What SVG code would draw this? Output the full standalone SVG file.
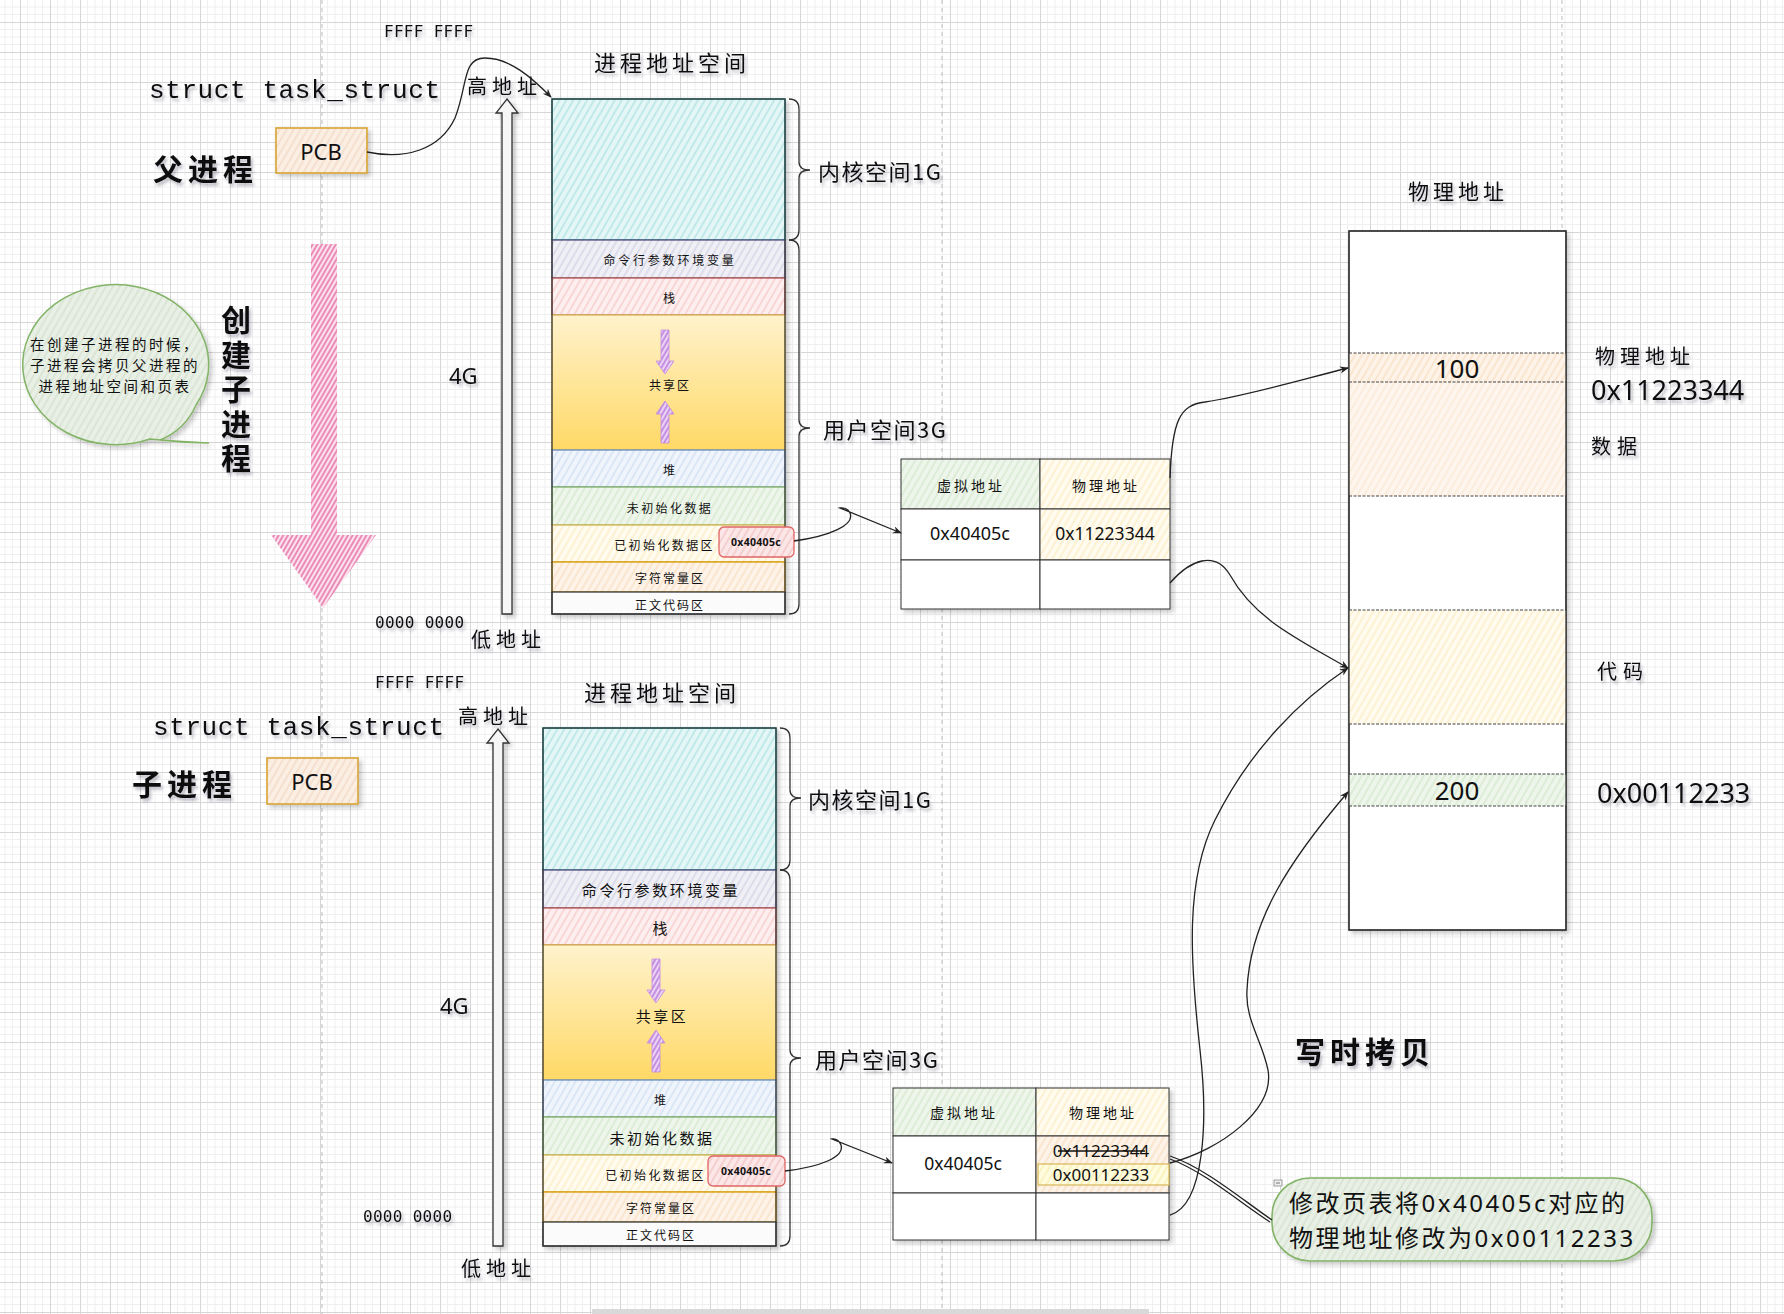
<svg xmlns="http://www.w3.org/2000/svg" width="1784" height="1314" viewBox="0 0 1784 1314">
<defs>
<style>
text{fill:#111;}
.cj{font-family:"Noto Sans CJK SC","Noto Sans CJK JP",sans-serif;}
.la{font-family:"Noto Sans","Noto Sans CJK SC",sans-serif;}
.mo{font-family:"DejaVu Sans Mono","Liberation Mono",monospace;}
.mo2{font-family:"Liberation Mono","DejaVu Sans Mono",monospace;}
.sh{filter:url(#ts);}
.c{text-anchor:middle;}
.m{dominant-baseline:central;}
.seg{stroke-width:1.3;}
.edge{fill:none;stroke:#222;stroke-width:1.3;}
.arr{marker-end:url(#ah);}
.brace{fill:none;stroke:#333;stroke-width:1.3;}
.pdiv{stroke:#444;stroke-width:1.2;stroke-dasharray:3 1.5;}
.page{stroke:#bdbdbd;stroke-width:1;stroke-dasharray:4 4;}
</style>
<pattern id="grid" patternUnits="userSpaceOnUse" x="20" y="22" width="30" height="30">
<rect width="30" height="30" fill="#fff"/>
<path d="M7.5,0V30M15,0V30M22.5,0V30M0,7.5H30M0,15H30M0,22.5H30" stroke="#f0f0f0" stroke-width="1"/>
<path d="M0.5,0V30M0,0.5H30" stroke="#d6d6d6" stroke-width="1"/>
</pattern>
<pattern id="hCyan" patternUnits="userSpaceOnUse" width="6" height="6" patternTransform="rotate(30)"><rect width="6" height="6" fill="#e4f6f6"/><line x1="1" y1="0" x2="1" y2="6" stroke="#aee3e3" stroke-width="1.3"/></pattern>
<pattern id="hLav" patternUnits="userSpaceOnUse" width="6" height="6" patternTransform="rotate(30)"><rect width="6" height="6" fill="#efeff5"/><line x1="1" y1="0" x2="1" y2="6" stroke="#d3d3e5" stroke-width="1.3"/></pattern>
<pattern id="hPink" patternUnits="userSpaceOnUse" width="6" height="6" patternTransform="rotate(30)"><rect width="6" height="6" fill="#fdefef"/><line x1="1" y1="0" x2="1" y2="6" stroke="#f6c9c9" stroke-width="1.3"/></pattern>
<pattern id="hBlue" patternUnits="userSpaceOnUse" width="6" height="6" patternTransform="rotate(30)"><rect width="6" height="6" fill="#f0f5fc"/><line x1="1" y1="0" x2="1" y2="6" stroke="#cfdef3" stroke-width="1.3"/></pattern>
<pattern id="hGreen" patternUnits="userSpaceOnUse" width="6" height="6" patternTransform="rotate(30)"><rect width="6" height="6" fill="#eef6eb"/><line x1="1" y1="0" x2="1" y2="6" stroke="#d3e7cb" stroke-width="1.3"/></pattern>
<pattern id="hYellow" patternUnits="userSpaceOnUse" width="6" height="6" patternTransform="rotate(30)"><rect width="6" height="6" fill="#fffbee"/><line x1="1" y1="0" x2="1" y2="6" stroke="#fcedc6" stroke-width="1.3"/></pattern>
<pattern id="hOrange" patternUnits="userSpaceOnUse" width="6" height="6" patternTransform="rotate(30)"><rect width="6" height="6" fill="#fdf3e8"/><line x1="1" y1="0" x2="1" y2="6" stroke="#f9dec2" stroke-width="1.3"/></pattern>
<pattern id="hPeach" patternUnits="userSpaceOnUse" width="6" height="6" patternTransform="rotate(30)"><rect width="6" height="6" fill="#fbeee3"/><line x1="1" y1="0" x2="1" y2="6" stroke="#f2d8c4" stroke-width="1.3"/></pattern>
<pattern id="hRed" patternUnits="userSpaceOnUse" width="6" height="6" patternTransform="rotate(30)"><rect width="6" height="6" fill="#fbe7e7"/><line x1="1" y1="0" x2="1" y2="6" stroke="#f2c3c3" stroke-width="1.3"/></pattern>
<pattern id="hCall" patternUnits="userSpaceOnUse" width="6" height="6" patternTransform="rotate(30)"><rect width="6" height="6" fill="#e8efe5"/><line x1="1" y1="0" x2="1" y2="6" stroke="#d4e0cf" stroke-width="1.3"/></pattern>
<pattern id="hLtYel" patternUnits="userSpaceOnUse" width="6" height="6" patternTransform="rotate(30)"><rect width="6" height="6" fill="#fffce0"/><line x1="1" y1="0" x2="1" y2="6" stroke="#f8efb0" stroke-width="1.3"/></pattern>
<pattern id="hPurple" patternUnits="userSpaceOnUse" width="4" height="4" patternTransform="rotate(30)"><rect width="4" height="4" fill="#e9d4f5"/><line x1="1" y1="0" x2="1" y2="4" stroke="#b56ad8" stroke-width="1.3"/></pattern>
<pattern id="hMag" patternUnits="userSpaceOnUse" width="4" height="4" patternTransform="rotate(30)"><rect width="4" height="4" fill="#fbe3ee"/><line x1="1" y1="0" x2="1" y2="4" stroke="#e4659f" stroke-width="1.4"/></pattern>
<linearGradient id="gShared" x1="0" y1="0" x2="0" y2="1"><stop offset="0" stop-color="#fff2cc"/><stop offset="1" stop-color="#ffd966"/></linearGradient>
<filter id="ts" x="-20%" y="-40%" width="150%" height="200%"><feDropShadow dx="2" dy="3" stdDeviation="1.6" flood-color="#334" flood-opacity="0.3"/></filter>
<filter id="ds" x="-10%" y="-10%" width="130%" height="130%"><feDropShadow dx="3" dy="3" stdDeviation="2" flood-color="#000" flood-opacity="0.2"/></filter>
<marker id="ah" viewBox="0 0 10 10" refX="9" refY="5" markerWidth="9" markerHeight="9" markerUnits="userSpaceOnUse" orient="auto"><path d="M0,1 L10,5 L0,9 L3,5 Z" fill="#222"/></marker>
</defs>

<rect width="1784" height="1314" fill="url(#grid)"/>
<g id="page-lines">
<line class="page" x1="322" y1="0" x2="322" y2="1314"/>
<line class="page" x1="942" y1="0" x2="942" y2="1314"/>
<line class="page" x1="1562" y1="0" x2="1562" y2="1314"/>
<rect x="592" y="1309" width="557" height="5" fill="#d9d9d9"/>
</g>

<!-- ===== Parent process ===== -->
<g id="parent-labels">
<text class="mo sh m" x="384" y="31" font-size="16" letter-spacing="0.3">FFFF  FFFF</text>
<text class="mo2 sh" x="149" y="98" font-size="26" letter-spacing="0.6">struct task_struct</text>
<text class="cj sh m" x="153" y="167" font-size="30" font-weight="bold" letter-spacing="5">父进程</text>
<text class="cj sh m" x="467" y="85" font-size="20" letter-spacing="5">高地址</text>
<text class="la sh m" x="449" y="375" font-size="22">4G</text>
<text class="mo sh m" x="375" y="622" font-size="16" letter-spacing="0.3">0000  0000</text>
<text class="cj sh m" x="471" y="638" font-size="20" letter-spacing="5">低地址</text>
<text class="cj sh c m" x="672" y="61" font-size="22" letter-spacing="4">进程地址空间</text>
</g>
<g id="parent-pcb">
<rect x="276" y="128" width="91" height="45" fill="url(#hPeach)" stroke="#d9a332" stroke-width="1.6" filter="url(#ds)"/>
<text class="la c m" x="321" y="151" font-size="22">PCB</text>
</g>
<g id="parent-addr-arrow">
<polygon points="507,99 518,113 512,113 512,614 502,614 502,113 496,113" fill="#f6f6f6" stroke="#333" stroke-width="1.3" filter="url(#ds)"/>
</g>
<g id="parent-vas" transform="translate(552,99)">
<g filter="url(#ds)">
<rect class="seg" x="0" y="0" width="233" height="141" fill="url(#hCyan)" stroke="#0e8088"/>
<rect class="seg" x="0" y="141" width="233" height="38" fill="url(#hLav)" stroke="#56517e"/>
<rect class="seg" x="0" y="179" width="233" height="37" fill="url(#hPink)" stroke="#b85450"/>
<rect class="seg" x="0" y="216" width="233" height="135" fill="url(#gShared)" stroke="#d6b656"/>
<rect class="seg" x="0" y="351" width="233" height="37" fill="url(#hBlue)" stroke="#6c8ebf"/>
<rect class="seg" x="0" y="388" width="233" height="38" fill="url(#hGreen)" stroke="#82b366"/>
<rect class="seg" x="0" y="426" width="233" height="37" fill="url(#hYellow)" stroke="#d6b656"/>
<rect class="seg" x="0" y="463" width="233" height="30" fill="url(#hOrange)" stroke="#d79b00"/>
<rect class="seg" x="0" y="493" width="233" height="22" fill="#fbfbfb" stroke="#36393d"/>
<rect x="0" y="0" width="233" height="515" fill="none" stroke="#333" stroke-width="1.2"/>
</g>
<path d="M109,231 H117 V262 H122 L113,275 L104,262 H109 Z" fill="url(#hPurple)" stroke="#c48ae0" stroke-width="0.8"/>
<path d="M113,302 L122,315 H117 V344 H109 V315 H104 Z" fill="url(#hPurple)" stroke="#c48ae0" stroke-width="0.8"/>
<text class="cj c m" x="118" y="160" font-size="12" letter-spacing="2.8">命令行参数环境变量</text>
<text class="cj c m" x="117" y="198" font-size="12">栈</text>
<text class="cj c m" x="118" y="285" font-size="12" letter-spacing="2">共享区</text>
<text class="cj c m" x="117" y="370" font-size="12">堆</text>
<text class="cj c m" x="118" y="408" font-size="12" letter-spacing="2.4">未初始化数据</text>
<text class="cj m" x="163" y="445" font-size="12" letter-spacing="2.4" text-anchor="end">已初始化数据区</text>
<rect x="167" y="428" width="75" height="30" rx="5" fill="url(#hRed)" stroke="#e06666" stroke-width="1.3"/>
<text class="la c m" x="204" y="443" font-size="10.5" font-weight="bold" letter-spacing="0.3">0x40405c</text>
<text class="cj c m" x="118" y="478" font-size="12" letter-spacing="2">字符常量区</text>
<text class="cj c m" x="118" y="505" font-size="12" letter-spacing="2">正文代码区</text>
<path class="brace" d="M237,0 Q247,0 247,10 L247,63 Q247,71 258,71 Q247,71 247,79 L247,131 Q247,141 237,141"/>
<path class="brace" d="M237,141 Q247,141 247,151 L247,321 Q247,329 258,329 Q247,329 247,337 L247,505 Q247,515 237,515"/>
<text class="cj sh m" x="266" y="71" font-size="22" letter-spacing="1.5">内核空间1G</text>
<text class="cj sh m" x="271" y="329" font-size="22" letter-spacing="1.5">用户空间3G</text>
</g>
<g id="parent-pagetable" transform="translate(901,459)">
<g filter="url(#ds)">
<rect x="0" y="0" width="139" height="50" fill="url(#hGreen)" stroke="#333"/>
<rect x="139" y="0" width="130" height="50" fill="url(#hYellow)" stroke="#333"/>
<rect x="0" y="50" width="139" height="51" fill="#fff" stroke="#333"/>
<rect x="139" y="50" width="130" height="51" fill="url(#hYellow)" stroke="#333"/>
<rect x="0" y="101" width="139" height="49" fill="#fff" stroke="#333"/>
<rect x="139" y="101" width="130" height="49" fill="#fff" stroke="#333"/>
</g>
<text class="cj c m" x="70" y="26" font-size="14" letter-spacing="3">虚拟地址</text>
<text class="cj c m" x="205" y="26" font-size="14" letter-spacing="3">物理地址</text>
<text class="la c m" x="69" y="74" font-size="18">0x40405c</text>
<text class="la c m" x="204" y="74" font-size="17.5">0x11223344</text>
</g>

<!-- ===== Child process ===== -->
<g id="child-labels">
<text class="mo sh m" x="375" y="682" font-size="16" letter-spacing="0.3">FFFF  FFFF</text>
<text class="mo2 sh" x="153" y="735" font-size="26" letter-spacing="0.6">struct task_struct</text>
<text class="cj sh m" x="132" y="782" font-size="30" font-weight="bold" letter-spacing="5">子进程</text>
<text class="cj sh m" x="458" y="715" font-size="20" letter-spacing="5">高地址</text>
<text class="la sh m" x="440" y="1005" font-size="22">4G</text>
<text class="mo sh m" x="363" y="1216" font-size="16" letter-spacing="0.3">0000  0000</text>
<text class="cj sh m" x="461" y="1267" font-size="20" letter-spacing="5">低地址</text>
<text class="cj sh c m" x="662" y="691" font-size="22" letter-spacing="4">进程地址空间</text>
</g>
<g id="child-pcb">
<rect x="267" y="758" width="91" height="46" fill="url(#hPeach)" stroke="#d9a332" stroke-width="1.6" filter="url(#ds)"/>
<text class="la c m" x="312" y="781" font-size="22">PCB</text>
</g>
<g id="child-addr-arrow">
<polygon points="498,729 509,743 503,743 503,1246 493,1246 493,743 487,743" fill="#f6f6f6" stroke="#333" stroke-width="1.3" filter="url(#ds)"/>
</g>
<g id="child-vas" transform="translate(543,728)">
<g filter="url(#ds)">
<rect class="seg" x="0" y="0" width="233" height="142" fill="url(#hCyan)" stroke="#0e8088"/>
<rect class="seg" x="0" y="142" width="233" height="38" fill="url(#hLav)" stroke="#56517e"/>
<rect class="seg" x="0" y="180" width="233" height="37" fill="url(#hPink)" stroke="#b85450"/>
<rect class="seg" x="0" y="217" width="233" height="135" fill="url(#gShared)" stroke="#d6b656"/>
<rect class="seg" x="0" y="352" width="233" height="37" fill="url(#hBlue)" stroke="#6c8ebf"/>
<rect class="seg" x="0" y="389" width="233" height="38" fill="url(#hGreen)" stroke="#82b366"/>
<rect class="seg" x="0" y="427" width="233" height="37" fill="url(#hYellow)" stroke="#d6b656"/>
<rect class="seg" x="0" y="464" width="233" height="30" fill="url(#hOrange)" stroke="#d79b00"/>
<rect class="seg" x="0" y="494" width="233" height="24" fill="#fbfbfb" stroke="#36393d"/>
<rect x="0" y="0" width="233" height="518" fill="none" stroke="#333" stroke-width="1.2"/>
</g>
<path d="M109,231 H117 V262 H122 L113,275 L104,262 H109 Z" fill="url(#hPurple)" stroke="#c48ae0" stroke-width="0.8"/>
<path d="M113,302 L122,315 H117 V344 H109 V315 H104 Z" fill="url(#hPurple)" stroke="#c48ae0" stroke-width="0.8"/>
<text class="cj c m" x="118" y="161" font-size="15" letter-spacing="2.6">命令行参数环境变量</text>
<text class="cj c m" x="117" y="199" font-size="15">栈</text>
<text class="cj c m" x="119" y="287" font-size="15" letter-spacing="2.5">共享区</text>
<text class="cj c m" x="117" y="371" font-size="12">堆</text>
<text class="cj c m" x="119" y="409" font-size="15" letter-spacing="2.5">未初始化数据</text>
<text class="cj m" x="163" y="446" font-size="12" letter-spacing="2.4" text-anchor="end">已初始化数据区</text>
<rect x="165" y="428" width="77" height="30" rx="5" fill="url(#hRed)" stroke="#e06666" stroke-width="1.3"/>
<text class="la c m" x="203" y="443" font-size="10.5" font-weight="bold" letter-spacing="0.3">0x40405c</text>
<text class="cj c m" x="118" y="479" font-size="12" letter-spacing="2">字符常量区</text>
<text class="cj c m" x="118" y="506" font-size="12" letter-spacing="2">正文代码区</text>
<path class="brace" d="M237,0 Q247,0 247,10 L247,62 Q247,70 258,70 Q247,70 247,78 L247,132 Q247,142 237,142"/>
<path class="brace" d="M237,142 Q247,142 247,152 L247,322 Q247,330 258,330 Q247,330 247,338 L247,508 Q247,518 237,518"/>
<text class="cj sh m" x="265" y="70" font-size="22" letter-spacing="1.5">内核空间1G</text>
<text class="cj sh m" x="272" y="330" font-size="22" letter-spacing="1.5">用户空间3G</text>
</g>
<g id="child-pagetable" transform="translate(893,1088)">
<g filter="url(#ds)">
<rect x="0" y="0" width="143" height="48" fill="url(#hGreen)" stroke="#333"/>
<rect x="143" y="0" width="133" height="48" fill="url(#hYellow)" stroke="#333"/>
<rect x="0" y="48" width="143" height="57" fill="#fff" stroke="#333"/>
<rect x="143" y="48" width="133" height="57" fill="url(#hOrange)" stroke="#333"/>
<rect x="0" y="105" width="143" height="47" fill="#fff" stroke="#333"/>
<rect x="143" y="105" width="133" height="47" fill="#fff" stroke="#333"/>
</g>
<rect x="145" y="76" width="131" height="21" fill="url(#hLtYel)" stroke="#d6b656" stroke-width="1.2"/>
<text class="cj c m" x="71" y="24" font-size="14" letter-spacing="3">虚拟地址</text>
<text class="cj c m" x="210" y="24" font-size="14" letter-spacing="3">物理地址</text>
<text class="la c m" x="70" y="75" font-size="17.5">0x40405c</text>
<text class="la c m" x="208" y="62" font-size="17">0x11223344</text>
<line x1="165" y1="63" x2="252" y2="63" stroke="#111" stroke-width="1.5"/>
<text class="la c m" x="208" y="86" font-size="17">0x00112233</text>
</g>

<!-- ===== Physical memory ===== -->
<g id="physical-memory">
<text class="cj sh c m" x="1458" y="190" font-size="21" letter-spacing="4">物理地址</text>
<g filter="url(#ds)">
<rect x="1349" y="231" width="217" height="699" fill="#fff" stroke="#333" stroke-width="1.3"/>
</g>
<rect x="1349" y="353" width="217" height="29" fill="url(#hOrange)"/>
<rect x="1349" y="382" width="217" height="114" fill="url(#hOrange)" opacity="0.75"/>
<rect x="1349" y="610" width="217" height="114" fill="url(#hYellow)"/>
<rect x="1349" y="774" width="217" height="32" fill="url(#hGreen)"/>
<line class="pdiv" x1="1349" y1="353" x2="1566" y2="353"/>
<line class="pdiv" x1="1349" y1="382" x2="1566" y2="382"/>
<line class="pdiv" x1="1349" y1="496" x2="1566" y2="496"/>
<line class="pdiv" x1="1349" y1="610" x2="1566" y2="610"/>
<line class="pdiv" x1="1349" y1="724" x2="1566" y2="724"/>
<line class="pdiv" x1="1349" y1="774" x2="1566" y2="774"/>
<line class="pdiv" x1="1349" y1="806" x2="1566" y2="806"/>
<rect x="1349" y="231" width="217" height="699" fill="none" stroke="#333" stroke-width="1.3"/>
<text class="la c m" x="1457" y="368" font-size="26">100</text>
<text class="la c m" x="1457" y="790" font-size="26">200</text>
<text class="cj sh m" x="1595" y="355" font-size="20" letter-spacing="5">物理地址</text>
<text class="la sh m" x="1591" y="389" font-size="27">0x11223344</text>
<text class="cj sh m" x="1591" y="445" font-size="20" letter-spacing="6">数据</text>
<text class="cj sh m" x="1597" y="670" font-size="20" letter-spacing="6">代码</text>
<text class="la sh m" x="1597" y="792" font-size="27">0x00112233</text>
</g>

<!-- ===== Left annotations ===== -->
<g id="create-child-arrow">
<polygon points="311,244 337,244 337,535 376,535 323,608 271,535 311,535" fill="url(#hMag)"/>
</g>
<g id="create-child-label">
<text class="cj sh" x="236" y="305" font-size="30" font-weight="bold" letter-spacing="4.5" style="writing-mode:vertical-rl">创建子进程</text>
</g>
<g id="fork-note">
<path d="M209,443 Q170,441 150,439 A93,80 0 1 1 196,405 Q185,430 160,440 Q185,443 209,443 Z" fill="url(#hCall)" stroke="#82b366" stroke-width="1.5" filter="url(#ds)"/>
<text class="cj c m" font-size="14.5" letter-spacing="2.5"><tspan x="115" y="343">在创建子进程的时候，</tspan><tspan x="115" y="364">子进程会拷贝父进程的</tspan><tspan x="115" y="385">进程地址空间和页表</tspan></text>
</g>

<!-- ===== Copy on write annotations ===== -->
<g id="cow-title">
<text class="cj sh m" x="1295" y="1050" font-size="30" font-weight="bold" letter-spacing="5">写时拷贝</text>
</g>
<g id="cow-note">
<rect x="1272" y="1178" width="380" height="83" rx="38" fill="url(#hCall)" stroke="#82b366" stroke-width="1.6" filter="url(#ds)"/>
<rect x="1274" y="1180" width="8" height="6" fill="#eee" stroke="#888" stroke-width="0.8"/>
<line x1="1276" y1="1183" x2="1280" y2="1183" stroke="#555" stroke-width="0.8"/>
<text class="la m" x="1289" y="1202" font-size="24" letter-spacing="2.5">修改页表将0x40405c对应的</text>
<text class="la m" x="1289" y="1237" font-size="24" letter-spacing="2.5">物理地址修改为0x00112233</text>
</g>

<!-- ===== Connectors ===== -->
<g id="connectors">
<path class="edge arr" d="M367,152 C405,160 440,150 455,118 C468,85 462,58 485,58 C510,58 532,78 551,97"/>
<path class="edge arr" d="M794,541 C830,536 855,525 850,513 Q847,507 840,508 L901,533"/>
<path class="edge arr" d="M1170,478 C1172,420 1180,405 1205,402 C1250,395 1300,380 1348,368"/>
<path class="edge arr" d="M1170,583 C1190,560 1215,550 1230,575 C1255,620 1300,640 1348,668"/>
<path class="edge arr" d="M785,1171 C820,1167 845,1157 841,1145 Q838,1138 832,1139 L892,1163"/>
<path class="edge arr" d="M1170,1215 C1205,1205 1208,1120 1200,1050 C1190,960 1185,880 1215,820 C1250,750 1300,700 1348,668"/>
<path class="edge arr" d="M1170,1163 C1220,1150 1275,1110 1268,1070 C1262,1040 1245,1020 1247,990 C1250,920 1290,860 1348,792"/>
<path class="edge" d="M1170,1156 C1205,1168 1240,1198 1272,1220"/>
<path class="edge" d="M1170,1159 C1203,1171 1238,1201 1270,1222" stroke-width="0.8"/>
</g>
</svg>
